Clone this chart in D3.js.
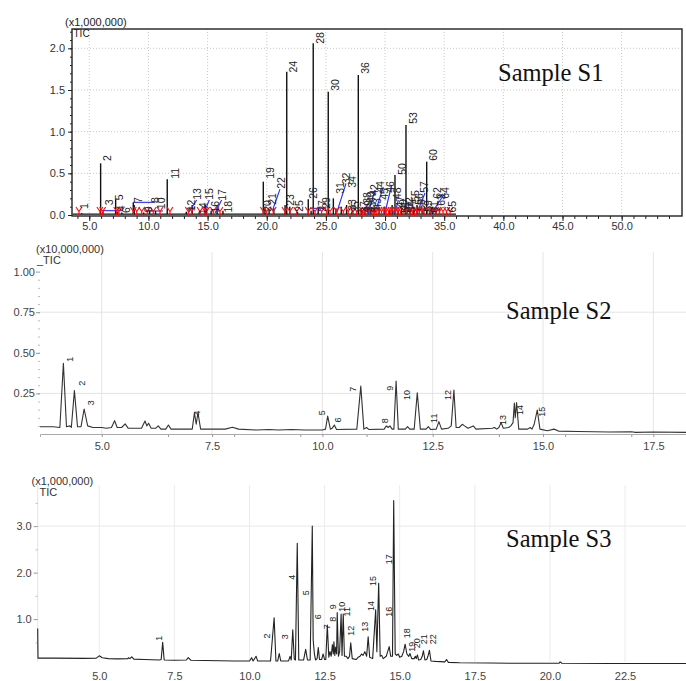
<!DOCTYPE html>
<html><head><meta charset="utf-8">
<script src="https://cdn.jsdelivr.net/npm/d3@7"></script>
<style>body{margin:0;background:#fff;} svg{display:block;}</style>
</head><body>
<svg id="c" width="686" height="681"></svg>
<script>
// ================= Sample S1 (stick chromatogram, x1,000,000) =================
const s1XTicks = [5, 10, 15, 20, 25, 30, 35, 40, 45, 50];
const s1YTicks = [0, 0.5, 1.0, 1.5, 2.0];
const s1Peaks = [[4.36,0.02],[5.96,0.62],[6.15,0.06],[7.23,0.19],[7.4,0.04],[7.75,0.03],[8.72,0.15],[8.8,0.12],[9.6,0.03],[10.1,0.06],[10.6,0.05],[11.59,0.43],[13.2,0.04],[13.7,0.12],[14.3,0.04],[14.8,0.12],[15.3,0.05],[15.8,0.12],[16.3,0.05],[19.71,0.40],[19.85,0.06],[20.2,0.07],[20.6,0.08],[21.55,0.12],[21.69,1.72],[21.95,0.10],[22.6,0.04],[23.51,0.19],[23.75,0.05],[23.93,2.06],[24.35,0.10],[25.2,1.48],[25.63,0.20],[25.85,0.08],[26.3,0.10],[26.75,0.12],[27.2,0.04],[27.74,1.68],[28.05,0.06],[28.3,0.08],[28.55,0.10],[28.8,0.06],[29.1,0.10],[29.5,0.08],[29.95,0.10],[30.4,0.06],[30.6,0.12],[30.84,0.48],[31.1,0.06],[31.4,0.05],[31.77,1.08],[32.1,0.08],[32.4,0.10],[32.7,0.12],[32.9,0.06],[33.2,0.05],[33.52,0.64],[33.8,0.06],[34.0,0.10],[34.3,0.08],[34.6,0.08],[35.2,0.03]];
const s1Base = [[3.6,0.01],[36.0,0.01]];
const s1Labels = ["1","2","3","4","5","6","7","8","9","10","11","12","13","14","15","16","17","18","19","20","21","22","23","24","25","26","27","28","29","30","31","32","33","34","35","36","37","38","39","40","41","42","43","44","45","46","47","48","49","50","51","52","53","54","55","56","57","58","59","60","61","62","63","64","65"];
const s1LabelT = [4.55,6.54,6.69,7.68,7.54,8.10,9.14,10.55,9.99,11.04,12.24,13.64,14.08,14.65,15.08,15.63,16.19,16.70,20.28,20.0,20.44,21.20,21.97,22.19,22.75,23.88,24.67,24.50,25.01,25.77,26.19,26.66,27.18,27.18,27.46,28.31,28.22,28.45,28.60,28.81,28.90,29.07,29.32,29.57,29.91,30.42,31.26,30.98,31.52,31.41,31.69,32.02,32.34,32.19,32.53,32.87,33.29,33.04,33.63,34.08,34.14,34.37,34.73,35.07,35.63];
const s1LabelV = [0.108,0.684,0.152,0.080,0.212,0.060,0.180,0.180,0.068,0.140,0.501,0.114,0.252,0.080,0.252,0.100,0.240,0.100,0.504,0.108,0.192,0.384,0.180,1.780,0.108,0.264,0.108,2.125,0.144,1.561,0.324,0.438,0.120,0.396,0.096,1.765,0.096,0.204,0.108,0.216,0.096,0.300,0.132,0.336,0.252,0.336,0.160,0.260,0.120,0.552,0.096,0.144,1.164,0.096,0.228,0.192,0.336,0.120,0.108,0.720,0.096,0.264,0.180,0.264,0.100];
const s1Baselines = [[[6.16,0.052],[7.74,0.052]],[[8.69,0.152],[10.55,0.152]],[[9.96,0.048],[11.23,0.048]],[[13.37,0.024],[14.08,0.18]],[[14.70,0.024],[15.14,0.18]],[[15.63,0.024],[16.19,0.18]],[[20.5,0.06],[21.12,0.31]],[[23.66,0.08],[24.93,0.08]],[[25.91,0.024],[26.7,0.38]],[[28.16,0.024],[28.58,0.14]],[[28.58,0.024],[29.15,0.30]],[[29.15,0.024],[29.85,0.336]],[[29.99,0.024],[30.56,0.36]],[[30.84,0.024],[31.12,0.18]],[[31.54,0.12],[32.39,0.12]],[[32.70,0.024],[33.38,0.264]],[[33.94,0.024],[35.07,0.264]]];
const s1Marks = [4.13,5.9,6.13,7.32,7.51,8.72,9.01,9.43,9.9,10.41,10.98,11.82,13.37,13.66,14.36,14.78,14.92,15.48,16.05,19.71,20.0,20.55,21.54,21.96,22.53,23.51,24.08,24.64,25.07,25.35,25.91,26.47,26.89,27.3,27.6,27.9,28.1,28.3,28.5,28.7,28.9,29.1,29.3,29.5,29.7,29.9,30.1,30.3,30.5,30.7,30.9,31.1,31.3,31.6,31.9,32.1,32.3,32.5,32.7,32.9,33.1,33.3,33.6,33.9,34.1,34.3,34.6,34.9,35.2,35.5];

// ================= Sample S2 (x10,000,000) =================
const s2XTicks = [5.0, 7.5, 10.0, 12.5, 15.0, 17.5];
const s2XMinor = [6.5, 8.0, 9.5, 11.0, 14.0, 15.5, 17.0];
const s2YTicks = [0.25, 0.50, 0.75, 1.00];
const s2HGrid = [0.25, 0.75];
const s2Trace = [[3.60,0.045],[3.9,0.045],[4.05,0.04],[4.13,0.435],[4.2,0.045],[4.28,0.05],[4.31,0.04],[4.38,0.267],[4.45,0.045],[4.53,0.045],[4.6,0.154],[4.68,0.05],[4.8,0.04],[5.0,0.04],[5.1,0.035],[5.22,0.04],[5.29,0.082],[5.35,0.04],[5.45,0.04],[5.53,0.062],[5.6,0.035],[5.9,0.035],[5.98,0.08],[6.02,0.05],[6.06,0.066],[6.12,0.035],[6.22,0.035],[6.28,0.05],[6.34,0.03],[6.45,0.03],[6.51,0.055],[6.57,0.03],[7.05,0.03],[7.1,0.13],[7.14,0.06],[7.18,0.131],[7.24,0.03],[7.8,0.03],[7.96,0.042],[8.1,0.03],[8.5,0.025],[8.8,0.028],[9.0,0.025],[9.3,0.028],[9.6,0.025],[10.0,0.025],[10.07,0.03],[10.12,0.11],[10.18,0.03],[10.22,0.035],[10.27,0.055],[10.32,0.028],[10.78,0.03],[10.87,0.295],[10.94,0.03],[11.0,0.04],[11.05,0.028],[11.4,0.03],[11.45,0.05],[11.49,0.04],[11.53,0.05],[11.58,0.03],[11.62,0.03],[11.67,0.326],[11.72,0.03],[11.88,0.03],[11.93,0.045],[11.98,0.03],[12.08,0.03],[12.15,0.254],[12.22,0.03],[12.35,0.03],[12.4,0.045],[12.45,0.028],[12.58,0.03],[12.64,0.076],[12.7,0.03],[12.85,0.035],[12.92,0.05],[12.98,0.271],[13.03,0.04],[13.1,0.04],[13.17,0.06],[13.22,0.05],[13.3,0.035],[13.42,0.05],[13.48,0.03],[13.85,0.035],[13.9,0.04],[13.95,0.03],[14.0,0.04],[14.05,0.07],[14.1,0.035],[14.22,0.04],[14.27,0.05],[14.32,0.07],[14.35,0.19],[14.37,0.1],[14.4,0.193],[14.45,0.03],[14.65,0.03],[14.71,0.04],[14.75,0.03],[14.8,0.06],[14.87,0.148],[14.93,0.03],[15.1,0.02],[15.25,0.03],[15.35,0.018],[15.8,0.015],[16.5,0.012],[17.0,0.014],[17.1,0.01],[17.5,0.012],[18.24,0.01]];
const s2Labels = ["1","2","3","4","5","6","7","8","9","10","11","12","13","14","15"];
const s2LabelT = [4.28,4.55,4.75,7.15,9.99,10.35,10.70,11.42,11.53,11.91,12.54,12.85,14.10,14.48,14.98];
const s2LabelV = [0.46,0.312,0.193,0.129,0.131,0.086,0.275,0.082,0.281,0.240,0.097,0.240,0.086,0.148,0.137];

// ================= Sample S3 (x1,000,000) =================
const s3XTicks = [5.0, 7.5, 10.0, 12.5, 15.0, 17.5, 20.0, 22.5];
const s3YTicks = [1.0, 2.0, 3.0];
const s3YMinor = [0.5, 1.5, 2.5, 3.5];
const s3HGrid = [3.0];
const s3Trace = [[2.95,0.8],[2.96,0.16],[3.5,0.16],[4.5,0.155],[4.9,0.16],[5.0,0.21],[5.1,0.17],[5.3,0.15],[5.6,0.145],[5.95,0.15],[5.97,0.17],[6.02,0.15],[6.08,0.19],[6.15,0.14],[6.5,0.13],[7.0,0.12],[7.06,0.13],[7.11,0.5],[7.16,0.12],[7.5,0.115],[7.9,0.12],[7.96,0.17],[8.05,0.115],[8.5,0.11],[9.0,0.105],[9.5,0.1],[10.0,0.1],[10.07,0.17],[10.12,0.1],[10.22,0.2],[10.27,0.1],[10.7,0.1],[10.82,1.03],[10.88,0.1],[10.94,0.1],[10.99,0.26],[11.04,0.1],[11.3,0.1],[11.35,0.2],[11.39,0.12],[11.44,0.77],[11.49,0.14],[11.53,0.12],[11.59,2.63],[11.64,0.12],[11.8,0.12],[11.87,0.35],[11.93,0.12],[12.02,0.12],[12.09,3.0],[12.12,0.55],[12.16,0.25],[12.2,0.12],[12.25,0.15],[12.29,0.39],[12.33,0.13],[12.4,0.13],[12.45,0.25],[12.5,0.13],[12.54,0.13],[12.59,0.87],[12.64,0.18],[12.68,0.3],[12.72,0.2],[12.76,0.45],[12.79,0.25],[12.81,0.51],[12.84,0.22],[12.87,0.4],[12.9,0.25],[12.92,1.14],[12.96,0.2],[13.0,0.3],[13.05,1.11],[13.08,0.22],[13.12,1.11],[13.16,0.2],[13.22,0.2],[13.28,0.15],[13.33,0.2],[13.37,0.49],[13.42,0.15],[13.55,0.13],[13.62,0.18],[13.68,0.2],[13.73,0.25],[13.78,0.22],[13.84,0.3],[13.9,0.2],[13.95,0.62],[14.0,0.18],[14.1,0.15],[14.2,1.2],[14.24,0.3],[14.3,1.77],[14.35,0.2],[14.4,0.22],[14.45,0.15],[14.55,0.2],[14.6,0.3],[14.65,0.41],[14.7,0.2],[14.76,0.2],[14.8,3.55],[14.85,0.25],[14.9,0.22],[14.95,0.25],[15.0,0.18],[15.07,0.2],[15.13,0.3],[15.18,0.46],[15.24,0.25],[15.3,0.2],[15.34,0.26],[15.4,0.15],[15.48,0.15],[15.52,0.2],[15.55,0.15],[15.59,0.23],[15.63,0.12],[15.7,0.13],[15.75,0.2],[15.79,0.32],[15.84,0.12],[15.9,0.13],[15.94,0.2],[15.99,0.33],[16.04,0.1],[16.2,0.09],[16.5,0.08],[16.56,0.13],[16.62,0.07],[17.0,0.06],[18.0,0.055],[19.0,0.05],[20.3,0.05],[20.34,0.08],[20.4,0.05],[22.0,0.045],[24.53,0.045]];
const s3Labels = ["1","2","3","4","5","6","7","8","9","10","11","12","13","14","15","16","17","18","19","20","21","22"];
const s3LabelT = [7.0,10.57,11.18,11.40,11.88,12.29,12.57,12.79,12.79,13.07,13.24,13.37,13.84,14.03,14.12,14.65,14.65,15.23,15.40,15.59,15.81,16.12];
const s3LabelV = [0.587,0.637,0.622,1.899,1.568,1.052,0.837,0.996,1.267,1.267,1.159,0.751,0.837,1.282,1.819,1.159,2.286,0.695,0.406,0.480,0.566,0.566];

// ================= drawing =================
const SANS = "'Liberation Sans', Arial, sans-serif";
const SERIF = "'Liberation Serif', 'Times New Roman', serif";
const svg = d3.select('#c');

function rotLabels(g, x, y, labels, ts, vs, size, color) {
  g.selectAll(null).data(labels).join('text')
    .attr('transform', (d, i) => `translate(${x(ts[i])},${y(vs[i])}) rotate(-90)`)
    .attr('text-anchor', 'middle').attr('dominant-baseline', 'central')
    .attr('font-family', SANS).attr('font-size', size).attr('fill', color)
    .text(d => d);
}
function styleAxisText(sel, size, color) {
  sel.selectAll('text').attr('font-family', SANS).attr('font-size', size).attr('fill', color);
}

// ---------- Panel S1 ----------
{
  const L = 72, R = 682, T = 29, B = 215;
  const x = d3.scaleLinear().domain([3.54, 55.1]).range([L, R]);
  const y = d3.scaleLinear().domain([0, 2.232]).range([B, T]);
  const g = svg.append('g');
  // grid
  g.selectAll(null).data(s1XTicks).join('line')
    .attr('x1', d => x(d)).attr('x2', d => x(d)).attr('y1', T).attr('y2', B)
    .attr('stroke', '#c8c8c8').attr('stroke-dasharray', '1,2');
  g.selectAll(null).data(s1YTicks.filter(d => d > 0)).join('line')
    .attr('x1', L).attr('x2', R).attr('y1', d => y(d)).attr('y2', d => y(d))
    .attr('stroke', '#c8c8c8').attr('stroke-dasharray', '1,2');
  // minor ticks
  const xm = g.append('g').attr('transform', `translate(0,${B + 1})`)
    .call(d3.axisBottom(x).tickValues(d3.range(4, 55, 1)).tickSize(3).tickFormat(''));
  xm.select('.domain').remove();
  const ym = g.append('g').attr('transform', `translate(${L},0)`)
    .call(d3.axisLeft(y).tickValues(d3.range(0, 2.21, 0.1)).tickSize(2).tickFormat(''));
  ym.select('.domain').remove();
  const xa = g.append('g').attr('transform', `translate(0,${B + 1})`)
    .call(d3.axisBottom(x).tickValues(s1XTicks).tickSize(5).tickPadding(1).tickFormat(d3.format('.1f')));
  xa.select('.domain').remove(); styleAxisText(xa, 11, '#333');
  const ya = g.append('g').attr('transform', `translate(${L},0)`)
    .call(d3.axisLeft(y).tickValues(s1YTicks).tickSize(4).tickPadding(3).tickFormat(d3.format('.1f')));
  ya.select('.domain').remove(); styleAxisText(ya, 11, '#333');
  g.selectAll('.tick line').attr('stroke', '#222');
  // frame
  g.append('rect').attr('x', L).attr('y', T).attr('width', R - L).attr('height', B + 1 - T)
    .attr('fill', 'none').attr('stroke', '#222').attr('stroke-width', 1.4);
  // baseline & peaks
  g.append('path').datum(s1Base).attr('d', d3.line().x(d => x(d[0])).y(d => y(d[1])))
    .attr('stroke', '#111').attr('stroke-width', 1.2).attr('fill', 'none');
  g.selectAll(null).data(s1Peaks).join('line')
    .attr('x1', d => x(d[0])).attr('x2', d => x(d[0]))
    .attr('y1', y(0.01)).attr('y2', d => y(d[1]))
    .attr('stroke', '#111').attr('stroke-width', 1.4);
  // integration baselines (blue)
  g.selectAll(null).data(s1Baselines).join('path')
    .attr('d', d3.line().x(d => x(d[0])).y(d => y(d[1])))
    .attr('stroke', '#2a2aff').attr('stroke-width', 1.1).attr('fill', 'none');
  // red markers
  const y0 = y(0);
  g.selectAll(null).data(s1Marks).join('path')
    .attr('d', d => { const cx = x(d); return `M${cx - 3},${y0 - 8}L${cx},${y0 - 3.5}L${cx + 3},${y0 - 8}M${cx},${y0 - 3.5}L${cx},${y0 + 1}`; })
    .attr('stroke', '#ff1010').attr('stroke-width', 1.2).attr('fill', 'none');
  // peak labels
  rotLabels(g, x, y, s1Labels, s1LabelT, s1LabelV, 10.5, '#222');
  // texts
  g.append('text').attr('x', 65).attr('y', 26).attr('font-family', SANS).attr('font-size', 11).attr('fill', '#222').text('(x1,000,000)');
  g.append('text').attr('x', 73.5).attr('y', 36.5).attr('font-family', SANS).attr('font-size', 10).attr('fill', '#222').text('TIC');
  g.append('text').attr('x', 498).attr('y', 81).attr('font-family', SERIF).attr('font-size', 24.5).attr('fill', '#111').text('Sample S1');
}

// ---------- Panel S2 ----------
{
  const L = 40, R = 686;
  const x = d3.scaleLinear().domain([3.6, 18.24]).range([L, R]);
  const y = d3.scaleLinear().domain([0, 1.0]).range([434, 271.6]);
  const g = svg.append('g');
  g.selectAll(null).data(s2XTicks).join('line')
    .attr('x1', d => x(d)).attr('x2', d => x(d)).attr('y1', 252).attr('y2', 434)
    .attr('stroke', '#e4e4e4');
  g.selectAll(null).data(s2HGrid).join('line')
    .attr('x1', L).attr('x2', R).attr('y1', d => y(d)).attr('y2', d => y(d))
    .attr('stroke', '#e4e4e4');
  const ym = g.append('g').attr('transform', `translate(${L},0)`)
    .call(d3.axisLeft(y).tickValues(d3.range(0.05, 1.0, 0.05)).tickSize(2).tickFormat(''));
  ym.select('.domain').remove(); ym.selectAll('line').attr('stroke', '#bbb');
  const ya = g.append('g').attr('transform', `translate(${L},0)`)
    .call(d3.axisLeft(y).tickValues(s2YTicks).tickSize(4).tickPadding(1).tickFormat(d3.format('.2f')));
  ya.select('.domain').remove(); ya.selectAll('line').attr('stroke', '#999');
  styleAxisText(ya, 11, '#444');
  const xm = g.append('g').attr('transform', 'translate(0,434)')
    .call(d3.axisBottom(x).tickValues(s2XMinor).tickSize(3).tickFormat(''));
  xm.select('.domain').remove(); xm.selectAll('line').attr('stroke', '#999');
  const xa = g.append('g').attr('transform', 'translate(0,434)')
    .call(d3.axisBottom(x).tickValues(s2XTicks).tickSize(3).tickPadding(5).tickFormat(d3.format('.1f')));
  xa.select('.domain').attr('stroke', '#aaa');
  xa.selectAll('line').attr('stroke', '#999');
  styleAxisText(xa, 11, '#444');
  g.append('path').datum(s2Trace).attr('d', d3.line().x(d => x(d[0])).y(d => y(d[1])))
    .attr('stroke', '#333').attr('stroke-width', 1.1).attr('fill', 'none').attr('stroke-linejoin', 'round');
  rotLabels(g, x, y, s2Labels, s2LabelT, s2LabelV, 9, '#222');
  g.append('text').attr('x', 36).attr('y', 252.5).attr('font-family', SANS).attr('font-size', 11).attr('fill', '#333').text('(x10,000,000)');
  g.append('text').attr('x', 37).attr('y', 263.5).attr('font-family', SANS).attr('font-size', 11).attr('fill', '#333').text('_TIC');
  g.append('text').attr('x', 506).attr('y', 319).attr('font-family', SERIF).attr('font-size', 24.5).attr('fill', '#111').text('Sample S2');
}

// ---------- Panel S3 ----------
{
  const L = 37.7, R = 686;
  const x = d3.scaleLinear().domain([2.95, 24.53]).range([L, R]);
  const y = d3.scaleLinear().domain([0, 3.88]).range([665.6, 485.2]);
  const g = svg.append('g');
  g.selectAll(null).data(s3XTicks).join('line')
    .attr('x1', d => x(d)).attr('x2', d => x(d)).attr('y1', 485).attr('y2', 662)
    .attr('stroke', '#ececec');
  g.append('line').attr('x1', L).attr('x2', L).attr('y1', 485).attr('y2', 662).attr('stroke', '#e4e4e4');
  g.selectAll(null).data(s3HGrid).join('line')
    .attr('x1', L).attr('x2', R).attr('y1', d => y(d)).attr('y2', d => y(d))
    .attr('stroke', '#e8e8e8');
  const ym = g.append('g').attr('transform', `translate(${L},0)`)
    .call(d3.axisLeft(y).tickValues(s3YMinor).tickSize(2).tickFormat(''));
  ym.select('.domain').remove(); ym.selectAll('line').attr('stroke', '#bbb');
  const ya = g.append('g').attr('transform', `translate(${L},0)`)
    .call(d3.axisLeft(y).tickValues(s3YTicks).tickSize(4).tickPadding(2).tickFormat(d3.format('.1f')));
  ya.select('.domain').remove(); ya.selectAll('line').attr('stroke', '#999');
  styleAxisText(ya, 11, '#444');
  const xa = g.append('g').attr('transform', 'translate(0,662)')
    .call(d3.axisBottom(x).tickValues(s3XTicks).tickSize(0).tickPadding(10).tickFormat(d3.format('.1f')));
  xa.select('.domain').remove();
  styleAxisText(xa, 11, '#444');
  g.append('path').datum(s3Trace).attr('d', d3.line().x(d => x(d[0])).y(d => y(d[1])))
    .attr('stroke', '#222').attr('stroke-width', 1.1).attr('fill', 'none').attr('stroke-linejoin', 'round');
  rotLabels(g, x, y, s3Labels, s3LabelT, s3LabelV, 9, '#222');
  g.append('text').attr('x', 31.5).attr('y', 485).attr('font-family', SANS).attr('font-size', 11).attr('fill', '#333').text('(x1,000,000)');
  g.append('text').attr('x', 39.5).attr('y', 496).attr('font-family', SANS).attr('font-size', 11).attr('fill', '#333').text('TIC');
  g.append('text').attr('x', 506).attr('y', 547).attr('font-family', SERIF).attr('font-size', 24.5).attr('fill', '#111').text('Sample S3');
}
</script>
</body></html>
